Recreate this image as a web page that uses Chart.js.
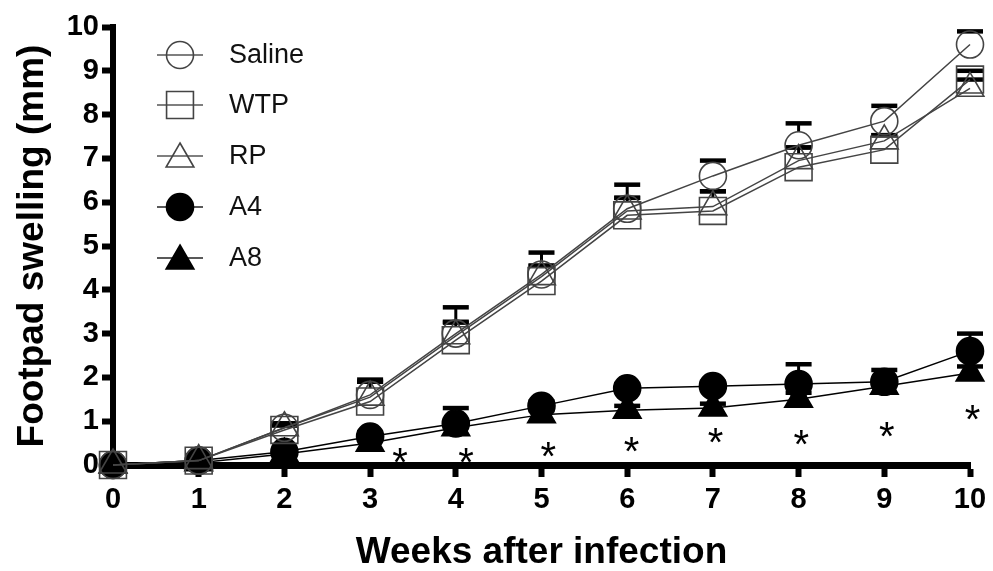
<!DOCTYPE html>
<html>
<head>
<meta charset="utf-8">
<script src="https://cdn.jsdelivr.net/npm/chart.js@4/dist/chart.umd.min.js"></script>
<style>
  html, body { margin: 0; padding: 0; background: #fff; }
  #wrap { width: 993px; height: 571px; position: relative; }
</style>
</head>
<body>
<div id="wrap"><canvas id="swellChart"></canvas></div>
<script>
// values
const weeks = [0, 1, 2, 3, 4, 5, 6, 7, 8, 9, 10];
const seriesNames = ['Saline', 'WTP', 'RP', 'A4', 'A8'];

const saline    = [0, 0.1, 0.85, 1.6, 3.0, 4.35, 5.85, 6.6, 7.3, 7.85, 9.6];
const salineErr = [0, 0, 0.1, 0.35, 0.6, 0.5, 0.55, 0.35, 0.5, 0.35, 0.3];
const wtp       = [0, 0.1, 0.8, 1.45, 2.85, 4.2, 5.7, 5.8, 6.8, 7.2, 8.8];
const wtpErr    = [0, 0, 0.1, 0.45, 0.42, 0.35, 0.4, 0.45, 0.45, 0.33, 0.2];
const rp        = [0, 0.1, 0.85, 1.55, 2.95, 4.3, 5.8, 5.9, 6.95, 7.4, 8.6];
const rpErr     = [0, 0, 0.1, 0.35, 0.3, 0.25, 0.3, 0.35, 0.3, 0.13, 0.2];
const a4        = [0, 0.1, 0.3, 0.65, 0.95, 1.35, 1.75, 1.8, 1.85, 1.9, 2.6];
const a4Err     = [0, 0, 0.05, 0.1, 0.35, 0.1, 0.1, 0.1, 0.45, 0.27, 0.4];
const a8        = [0, 0.05, 0.25, 0.5, 0.85, 1.15, 1.25, 1.3, 1.5, 1.8, 2.1];
const a8Err     = [0, 0, 0.05, 0.1, 0.1, 0.1, 0.1, 0.1, 0.15, 0.15, 0.15];

// significance stars (week, mm)
const starWeeks = [3.35, 4.12, 5.08, 6.05, 7.03, 8.03, 9.03, 10.03];
const starLevel = [0.27, 0.27, 0.41, 0.53, 0.73, 0.68, 0.87, 1.26];

const yTicks = [0, 1, 2, 3, 4, 5, 6, 7, 8, 9, 10];
const xTicks = [0, 1, 2, 3, 4, 5, 6, 7, 8, 9, 10];

const FONT = '"Liberation Sans", Arial, sans-serif';

function pts(vals) {
  return weeks.map((w, i) => ({ x: w, y: vals[i] }));
}

const styles = [
  { vals: saline, err: salineErr, shape: 'circle',   r: 13.5, open: true },
  { vals: wtp,    err: wtpErr,    shape: 'rect',     r: 19,   open: true },
  { vals: rp,     err: rpErr,     shape: 'triangle', r: 16,   open: true },
  { vals: a4,     err: a4Err,     shape: 'circle',   r: 13.5, open: false },
  { vals: a8,     err: a8Err,     shape: 'triangle', r: 16,   open: false }
];

const datasets = styles.map((s, i) => ({
  label: seriesNames[i],
  data: pts(s.vals),
  errors: s.err,
  showLine: true,
  borderColor: s.open ? '#444' : '#000',
  borderWidth: 1.5,
  pointStyle: s.shape,
  pointRadius: s.r,
  pointHoverRadius: s.r,
  pointBorderColor: s.open ? '#444' : '#000',
  pointBorderWidth: 1.6,
  pointBackgroundColor: s.open ? 'rgba(0,0,0,0)' : '#000',
  tension: 0,
  clip: false
}));

// same geometry chart.js uses for its point styles
function marker(ctx, shape, r, x, y, open) {
  ctx.beginPath();
  if (shape === 'circle') {
    ctx.arc(x, y, r, 0, Math.PI * 2);
  } else if (shape === 'rect') {
    const s = r * Math.SQRT1_2;
    ctx.rect(x - s, y - s, 2 * s, 2 * s);
  } else {
    let a = 0;
    ctx.moveTo(x + Math.sin(a) * r, y - Math.cos(a) * r);
    a += Math.PI * 2 / 3;
    ctx.lineTo(x + Math.sin(a) * r, y - Math.cos(a) * r);
    a += Math.PI * 2 / 3;
    ctx.lineTo(x + Math.sin(a) * r, y - Math.cos(a) * r);
    ctx.closePath();
  }
  if (!open) {
    ctx.fillStyle = '#000';
    ctx.fill();
  }
  ctx.strokeStyle = open ? '#444' : '#000';
  ctx.lineWidth = 1.6;
  ctx.stroke();
}

// upper error bars, stem starts at the marker's top edge
const errorBars = {
  id: 'errorBars',
  beforeDatasetsDraw(chart) {
    const { ctx, scales: { x, y } } = chart;
    ctx.save();
    ctx.strokeStyle = '#000';
    chart.data.datasets.forEach(ds => {
      const top = ds.pointStyle === 'rect' ? ds.pointRadius * Math.SQRT1_2 : ds.pointRadius;
      ds.data.forEach((p, i) => {
        const e = ds.errors[i];
        if (!e) return;
        const px = x.getPixelForValue(p.x);
        const y0 = y.getPixelForValue(p.y) - top;
        const y1 = y.getPixelForValue(p.y + e);
        if (y1 < y0) {
          ctx.lineWidth = 3;
          ctx.beginPath();
          ctx.moveTo(px, y0);
          ctx.lineTo(px, y1);
          ctx.stroke();
        }
        ctx.lineWidth = 4.5;
        ctx.beginPath();
        ctx.moveTo(px - 13, y1);
        ctx.lineTo(px + 13, y1);
        ctx.stroke();
      });
    });
    ctx.restore();
  }
};

const starsAndLegend = {
  id: 'starsAndLegend',
  afterDraw(chart) {
    const { ctx, scales: { x, y } } = chart;
    ctx.save();
    // asterisks
    ctx.fillStyle = '#000';
    ctx.font = '40px ' + FONT;
    ctx.textAlign = 'center';
    ctx.textBaseline = 'alphabetic';
    starWeeks.forEach((w, i) => {
      const px = x.getPixelForValue(w);
      const py = y.getPixelForValue(starLevel[i]);
      ctx.fillText('*', px, py + 0.57 * 40);
    });
    // legend
    const rowY = [55, 105, 156, 207, 258];
    ctx.font = '27px ' + FONT;
    ctx.textAlign = 'left';
    ctx.textBaseline = 'middle';
    styles.forEach((s, i) => {
      const ly = rowY[i];
      ctx.strokeStyle = s.open ? '#555' : '#222';
      ctx.lineWidth = 1.5;
      ctx.beginPath();
      ctx.moveTo(157, ly);
      ctx.lineTo(203, ly);
      ctx.stroke();
      const dy = s.shape === 'triangle' ? 3 : 0;
      marker(ctx, s.shape, s.r, 180, ly + dy, s.open);
      ctx.fillStyle = '#111';
      ctx.fillText(seriesNames[i], 229, ly + 1);
    });
    ctx.restore();
  }
};

const ctx = document.getElementById('swellChart').getContext('2d');
new Chart(ctx, {
  type: 'scatter',
  data: { datasets: datasets },
  options: {
    responsive: true,
    maintainAspectRatio: false,
    animation: false,
    events: [],
    layout: { padding: { top: 27, right: 23, left: 0, bottom: 0 } },
    scales: {
      x: {
        type: 'linear',
        min: 0,
        max: 10,
        afterFit(scale) { scale.height = 106; },
        afterBuildTicks(scale) { scale.ticks = xTicks.map(v => ({ value: v })); },
        grid: {
          drawOnChartArea: false,
          drawTicks: true,
          tickLength: 12,
          tickWidth: 6,
          tickColor: '#000'
        },
        border: { display: true, width: 7, color: '#000' },
        ticks: {
          color: '#000',
          padding: 6,
          font: { family: FONT, size: 29, weight: 'bold' }
        },
        title: {
          display: true,
          text: 'Weeks after infection',
          color: '#000',
          padding: { top: 0, bottom: 0 },
          font: { family: FONT, size: 37, weight: 'bold', lineHeight: 1 }
        }
      },
      y: {
        min: 0,
        max: 10,
        afterFit(scale) { scale.width = 113; },
        afterBuildTicks(scale) { scale.ticks = yTicks.map(v => ({ value: v })); },
        grid: {
          drawOnChartArea: false,
          drawTicks: true,
          tickLength: 11,
          tickWidth: 6,
          tickColor: '#000'
        },
        border: { display: true, width: 6, color: '#000' },
        ticks: {
          color: '#000',
          padding: 3,
          font: { family: FONT, size: 29, weight: 'bold' }
        },
        title: {
          display: true,
          text: 'Footpad swelling (mm)',
          color: '#000',
          padding: { top: 14, bottom: 0 },
          font: { family: FONT, size: 37, weight: 'bold', lineHeight: 1 }
        }
      }
    },
    plugins: {
      legend: { display: false },
      tooltip: { enabled: false }
    }
  },
  plugins: [errorBars, starsAndLegend]
});
</script>
</body>
</html>
